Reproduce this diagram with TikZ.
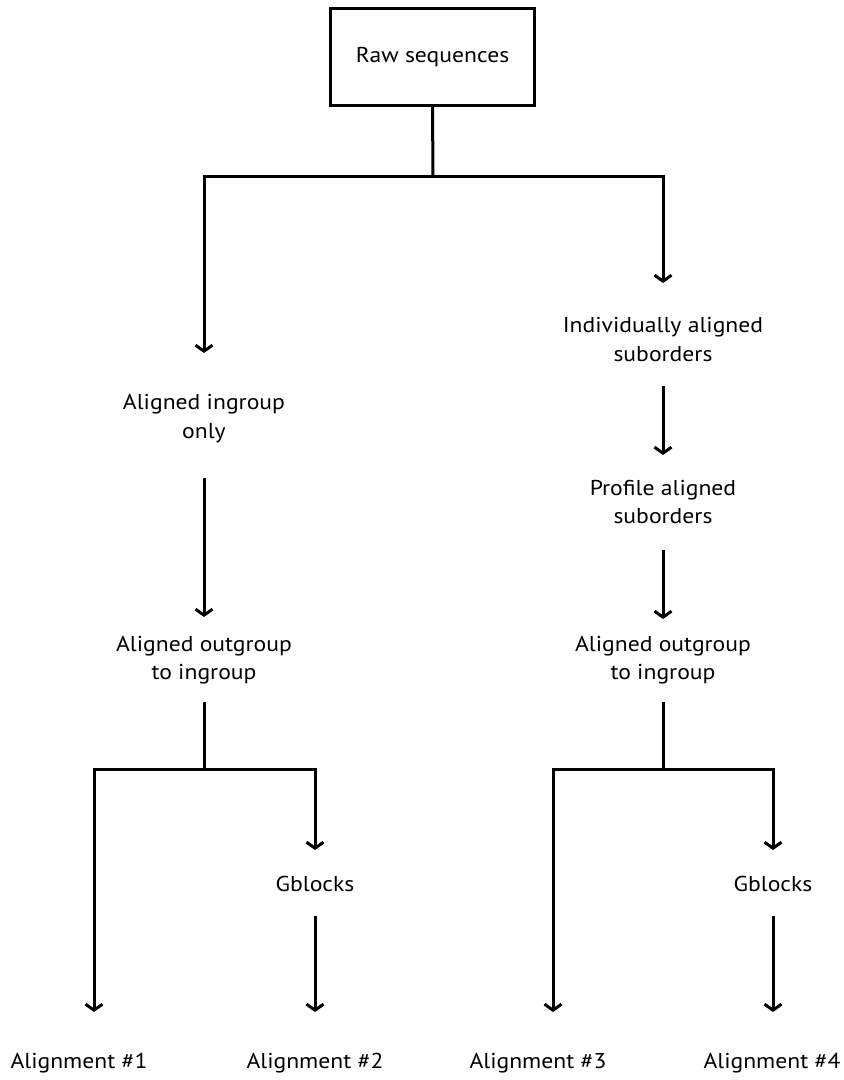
\documentclass[tikz,border=0pt]{standalone}
\usepackage{fontspec}
\setmainfont{PT Sans}[FakeStretch=1.1]
\usepackage{tikz}
\usetikzlibrary{arrows.meta,positioning}

\begin{document}
\begin{tikzpicture}[
    x=1pt, y=-1pt,
    label/.style={inner sep=0pt, align=center,
                  font=\fontsize{21.5}{28.5}\selectfont},
    rawbox/.style={label, rectangle, draw, line width=3pt,
                   minimum width=204pt, minimum height=97pt},
    link/.style={line width=3pt},
    arrow/.style={link, -{Straight Barb[length=6pt,width=17pt]}}
]
\useasboundingbox (0,0) rectangle (844,1080);

% Top: raw data
\node[rawbox] (raw) at (432.5,57) {Raw sequences};
\coordinate (splitTop) at (433,176);

% Left branch
\node[label] (ingroup) at (204,418.5) {Aligned ingroup\\only};
\node[label] (outL) at (204,660) {Aligned outgroup\\to ingroup};
\coordinate (splitL) at (204,769);
\node[label] (gbL) at (315,884) {Gblocks};
\node[label] (aln1) at (79,1063) {Alignment \#1};
\node[label] (aln2) at (315,1063) {Alignment \#2};

% Right branch
\node[label] (indiv) at (663,339.5) {Individually aligned\\suborders};
\node[label] (profile) at (663,502) {Profile aligned\\suborders};
\node[label] (outR) at (663,660) {Aligned outgroup\\to ingroup};
\coordinate (splitR) at (663,769);
\node[label] (gbR) at (773,884) {Gblocks};
\node[label] (aln3) at (538,1063) {Alignment \#3};
\node[label] (aln4) at (772,1063) {Alignment \#4};

% Arrows
\draw[link] (raw.south) -- (splitTop);
\draw[arrow, shorten >=65.5pt] (splitTop) -| (ingroup.center);
\draw[arrow, shorten >=56.5pt] (splitTop) -| (indiv.center);

\draw[arrow, shorten <=59.5pt, shorten >=43pt] (ingroup.center) -- (outL.center);
\draw[link, shorten <=42pt] (outL.center) -- (splitL);
\draw[arrow, shorten >=51pt] (splitL) -| ([xshift=15pt]aln1.center);
\draw[arrow, shorten >=34pt] (splitL) -| (gbL.center);
\draw[arrow, shorten <=32pt, shorten >=51pt] (gbL.center) -- (gbL.center |- aln2.center);

\draw[arrow, shorten <=46.5pt, shorten >=47pt] (indiv.center) -- (profile.center);
\draw[arrow, shorten <=48pt, shorten >=41pt] (profile.center) -- (outR.center);
\draw[link, shorten <=42pt] (outR.center) -- (splitR);
\draw[arrow, shorten >=51pt] (splitR) -| ([xshift=15pt]aln3.center);
\draw[arrow, shorten >=34pt] (splitR) -| (gbR.center);
\draw[arrow, shorten <=32pt, shorten >=51pt] (gbR.center) -- (gbR.center |- aln4.center);

\end{tikzpicture}
\end{document}
